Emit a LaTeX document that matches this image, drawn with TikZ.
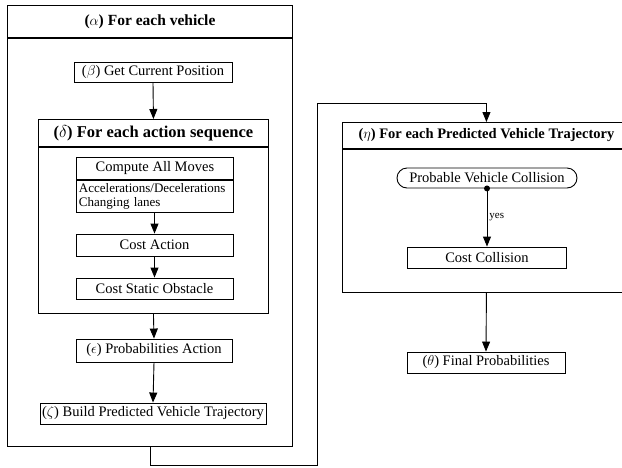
\documentclass[tikz,border=0pt]{standalone}
\usepackage{fontspec}
\setmainfont{Liberation Serif}
\usetikzlibrary{arrows.meta}
\begin{document}
\begin{tikzpicture}[x=1pt,y=-1pt,
  lw/.style={line width=0.9pt},
  frame/.style={draw, lw, anchor=north west, inner sep=0pt},
  stepbox/.style={draw, lw, inner sep=0pt, font=\fontsize{14.5}{16}\selectfont},
  ttl/.style={font=\bfseries\fontsize{15.5}{17}\selectfont},
  arr/.style={lw, -{Triangle[length=10pt,width=8pt]}},
]
\useasboundingbox (0,0) rectangle (622,467);

% (alpha) outer frame
\node[frame, ttl, minimum width=285pt, minimum height=32pt] (alphaH) at (7,5) {($\alpha$) For each vehicle};
\node[frame, minimum width=285pt, minimum height=408pt] (alphaB) at (alphaH.south west) {};

\node[stepbox, minimum width=158pt, minimum height=20pt] (beta) at (153,72) {($\beta$) Get Current Position};

% (delta) frame
\node[frame, ttl, font=\bfseries\fontsize{16.5}{18}\selectfont, minimum width=230pt, minimum height=27pt] (deltaH) at (38,119) {($\delta$) For each action sequence};
\node[frame, minimum width=230pt, minimum height=166pt] (deltaB) at (deltaH.south west) {};

\node[frame, stepbox, minimum width=157pt, minimum height=22pt] (computeT) at (76,157) {Compute All Moves};
\node[frame, stepbox, font=\fontsize{13}{14}\selectfont, text width=152pt, inner xsep=2.5pt, inner ysep=0pt, minimum height=32pt, align=left] (computeB) at (computeT.south west) {Accelerations/Decelerations\\Changing lanes};

\node[stepbox, minimum width=157pt, minimum height=22pt] (costA) at (154.5,245) {Cost Action};
\node[stepbox, minimum width=157pt, minimum height=21pt] (costS) at (154.5,288.5) {Cost Static Obstacle};

\node[stepbox, minimum width=156pt, minimum height=23pt] (eps) at (154,350.5) {($\epsilon$) Probabilities Action};
\node[stepbox, minimum width=226pt, minimum height=21pt] (zeta) at (153,413.5) {($\zeta$) Build Predicted Vehicle Trajectory};

\draw[arr] (beta.south) -- (deltaH.north);
\draw[arr] (computeB.south -| costA.north) -- (costA.north);
\draw[arr] (costA.south) -- (costS.north);
\draw[arr] (deltaB.south) -- (eps.north);
\draw[arr] (eps.south) -- (zeta.north);

% (eta) frame
\node[frame, ttl, font=\bfseries\fontsize{14.5}{16}\selectfont, minimum width=288pt, minimum height=26pt] (etaH) at (342,122) {($\eta$) For each Predicted Vehicle Trajectory};
\node[frame, minimum width=288pt, minimum height=143pt] (etaB) at (etaH.south west) {};

\node[draw, lw, rounded corners=10pt, minimum width=180pt, minimum height=20pt, inner sep=0pt, font=\fontsize{14.5}{16}\selectfont] (pvc) at (487,178) {Probable Vehicle Collision};
\node[stepbox, minimum width=159pt, minimum height=21pt] (cc) at (487,257.5) {Cost Collision};
\fill (pvc.south) circle (3pt);
\draw[arr] (pvc.south) -- node[right, font=\fontsize{11}{12}\selectfont, inner sep=2pt] (yes) {yes} (cc.north);

\node[stepbox, minimum width=158pt, minimum height=21pt] (final) at (486,362.5) {($\theta$) Final Probabilities};
\draw[arr] (etaB.south) -- (final.north);

% connector from alpha to eta
\coordinate (c2) at (317,465);
\coordinate (c3) at (317,103);
\draw[arr] (alphaB.south) |- (c2) -- (c3) -| (etaH.north);
\end{tikzpicture}
\end{document}
